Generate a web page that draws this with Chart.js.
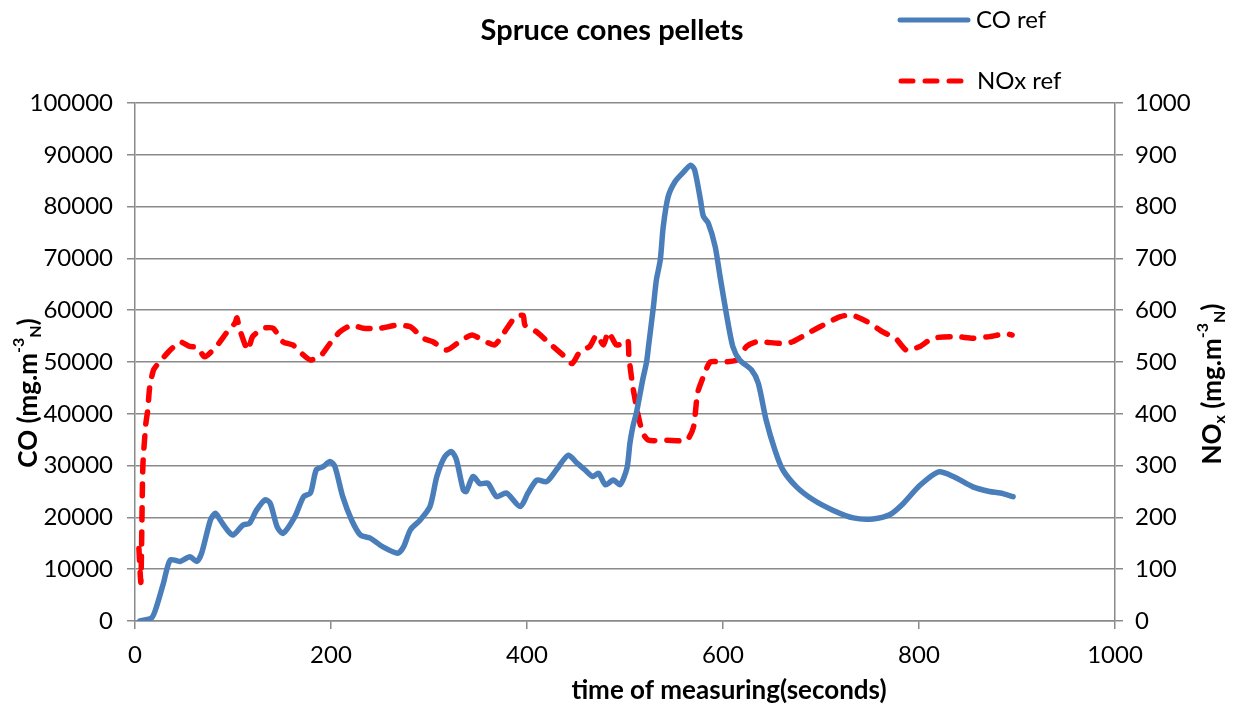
<!DOCTYPE html>
<html lang="en">
<head>
  <meta charset="UTF-8">
  <title>Spruce cones pellets</title>
  <script src="https://cdn.jsdelivr.net/npm/chart.js@4.4.0/dist/chart.umd.min.js"></script>
  <style>
    html, body { margin: 0; padding: 0; background: #fff; }
    #wrap { width: 1238px; height: 708px; }
  </style>
</head>
<body>
<div id="wrap"><canvas id="co-nox-chart" width="1238" height="708"></canvas></div>

<script>
  // time (s) and CO (mg/m3N)
  var coTime = [5, 17, 22, 29, 36, 46, 56, 63, 68, 77, 82, 87, 94, 100, 110, 117, 124, 133, 138, 145,
    151, 163, 172, 179, 185, 192, 199, 204, 212, 221, 230, 240, 253, 268, 274, 281, 291, 301, 308, 316,
    323, 328, 335, 338, 345, 352, 360, 369, 379, 393, 401, 410, 420, 430, 442, 451, 459, 467, 473, 480,
    488, 495, 502, 505, 508, 512, 518, 522, 524, 529, 532, 536, 539, 544, 551, 559, 567, 571, 577, 580,
    585, 592, 597, 604, 610, 617, 629, 636, 644, 653, 661, 675, 692, 712, 733, 753, 770, 784, 801, 820,
    835, 855, 872, 883, 896];
  var coValues = [0, 600, 2800, 7300, 11800, 11500, 12400, 11500, 13100, 19500, 20800, 19500, 17600, 16600, 18500, 18900, 21400, 23400, 22700, 18200,
    16900, 20100, 24000, 24700, 29200, 29800, 30800, 29800, 24000, 19500, 16600, 16000, 14300, 13100, 14300, 17600, 19500, 22100, 27900, 31700,
    32700, 31100, 25300, 25000, 27900, 26500, 26600, 24000, 24700, 22100, 24700, 27200, 26900, 29200, 32000, 30500, 29200, 27900, 28500, 26300,
    27200, 26300, 29500, 34300, 37500, 40500, 46500, 50000, 53000, 60700, 65800, 69700, 76100, 81900, 84800, 86500, 88000, 87100, 81300, 78100,
    76800, 72300, 66500, 58700, 53000, 50400, 48500, 45900, 38800, 33000, 29200, 25900, 23400, 21400, 19900, 19700, 20500, 22700, 26200, 28800,
    27900, 25900, 25000, 24700, 24000];

  // time (s) and NOx (mg/m3N)
  var noxTime = [4, 6, 8, 11, 13, 15, 19, 25, 36, 46, 56, 64, 71, 83, 94, 102, 104, 107, 115, 120,
    131, 141, 151, 161, 168, 179, 190, 199, 209, 221, 233, 250, 267, 281, 294, 304, 318, 333, 344, 355,
    367, 376, 388, 396, 398, 410, 423, 437, 446, 454, 464, 471, 478, 483, 491, 498, 503, 504, 508, 513,
    518, 524, 543, 563, 570, 574, 580, 587, 600, 614, 624, 634, 658, 671, 689, 706, 719, 731, 747, 763,
    776, 787, 801, 814, 838, 855, 872, 889, 895];
  var noxValues = [140, 75, 298, 380, 407, 452, 485, 500, 523, 539, 530, 528, 510, 530, 558, 575, 585, 562, 523, 549,
    565, 565, 539, 533, 520, 504, 513, 536, 558, 571, 565, 565, 571, 568, 546, 539, 523, 542, 552, 542,
    533, 555, 587, 590, 571, 558, 536, 513, 497, 520, 530, 552, 533, 558, 533, 536, 542, 510, 452, 401,
    363, 349, 349, 349, 375, 440, 472, 500, 500, 504, 530, 539, 536, 539, 558, 575, 587, 591, 578, 558,
    546, 523, 530, 546, 549, 546, 549, 555, 552];

  var xTicks = [0, 200, 400, 600, 800, 1000];

  var chartTitle = 'Spruce cones pellets';
  var xTitle = 'time of measuring(seconds)';
  var seriesNames = ['CO ref', 'NOx ref'];

  var coColor = '#4a7ebb';
  var noxColor = '#ff0000';
  var gridColor = '#8a8a8a';
  var fontName = 'Lato, "Open Sans", sans-serif';

  function toPoints(xs, ys) {
    return xs.map(function (x, i) { return { x: x, y: ys[i] }; });
  }

  function plain(v) { return String(v); }

  // draw a run of text pieces (with super/subscripts) centred on cx, cy
  function drawRich(ctx, parts, cx, cy, rotate) {
    ctx.save();
    ctx.translate(cx, cy);
    if (rotate) ctx.rotate(-Math.PI / 2);
    var total = 0;
    parts.forEach(function (p) { ctx.font = p.font; total += ctx.measureText(p.text).width; });
    var x = -total / 2;
    ctx.textBaseline = 'middle';
    ctx.textAlign = 'left';
    ctx.fillStyle = '#000';
    parts.forEach(function (p) {
      ctx.font = p.font;
      ctx.fillText(p.text, x, p.dy || 0);
      x += ctx.measureText(p.text).width;
    });
    ctx.restore();
  }

  var decorations = {
    id: 'decorations',
    afterDraw: function (chart) {
      var ctx = chart.ctx;
      var big = 'bold 26px ' + fontName;
      var small = 'bold 16px ' + fontName;

      // title
      ctx.save();
      ctx.font = 'bold 29px ' + fontName;
      ctx.fillStyle = '#000';
      ctx.textAlign = 'center';
      ctx.textBaseline = 'middle';
      ctx.fillText(chartTitle, 612, 31);

      // x axis title
      ctx.font = big;
      ctx.fillText(xTitle, 729, 691);
      ctx.restore();

      // y axis titles
      drawRich(ctx, [
        { text: 'CO (mg.m', font: big },
        { text: '-3', font: small, dy: -10 },
        { text: 'N', font: small, dy: 7 },
        { text: ')', font: big }
      ], 29, 393, true);
      drawRich(ctx, [
        { text: 'NO', font: big },
        { text: 'x', font: small, dy: 7 },
        { text: ' (mg.m', font: big },
        { text: '-3', font: small, dy: -10 },
        { text: 'N', font: small, dy: 7 },
        { text: ')', font: big }
      ], 1213, 384, true);

      // legend
      ctx.save();
      ctx.lineWidth = 5;
      ctx.lineCap = 'round';
      ctx.strokeStyle = coColor;
      ctx.beginPath();
      ctx.moveTo(900, 20);
      ctx.lineTo(968, 20);
      ctx.stroke();
      ctx.strokeStyle = noxColor;
      ctx.setLineDash([12, 12]);
      ctx.beginPath();
      ctx.moveTo(901, 81);
      ctx.lineTo(961, 81);
      ctx.stroke();
      ctx.setLineDash([]);
      ctx.font = '24px ' + fontName;
      ctx.fillStyle = '#000';
      ctx.textBaseline = 'middle';
      ctx.fillText(seriesNames[0], 976, 20);
      ctx.fillText(seriesNames[1], 977, 81);
      ctx.restore();
    }
  };

  var tickFont = { family: fontName, size: 24 };

  var ctx = document.getElementById('co-nox-chart').getContext('2d');
  var myChart = new Chart(ctx, {
    type: 'line',
    data: {
      datasets: [{
        label: seriesNames[0],
        data: toPoints(coTime, coValues),
        yAxisID: 'y',
        borderColor: coColor,
        borderWidth: 5.5,
        pointRadius: 0,
        tension: 0.25,
        borderCapStyle: 'round',
        borderJoinStyle: 'round'
      }, {
        label: seriesNames[1],
        data: toPoints(noxTime, noxValues),
        yAxisID: 'y2',
        borderColor: noxColor,
        borderWidth: 5.5,
        borderDash: [12, 12],
        borderCapStyle: 'round',
        borderJoinStyle: 'round',
        pointRadius: 0,
        tension: 0.2
      }]
    },
    options: {
      responsive: false,
      animation: false,
      layout: { padding: { top: 103, left: 0, right: 0, bottom: 0 } },
      plugins: {
        legend: { display: false },
        title: { display: false },
        tooltip: { enabled: false }
      },
      scales: {
        x: {
          type: 'linear',
          min: 0,
          max: 1000,
          afterFit: function (s) { s.height = 87; },
          afterBuildTicks: function (s) { s.ticks = xTicks.map(function (v) { return { value: v }; }); },
          grid: { drawOnChartArea: false, drawTicks: true, tickLength: 8, color: gridColor, lineWidth: 1.5 },
          border: { display: true, color: gridColor, width: 1.5 },
          ticks: { color: '#000', font: tickFont, padding: 12, maxRotation: 0, callback: plain }
        },
        y: {
          position: 'left',
          min: 0,
          max: 100000,
          afterFit: function (s) { s.width = 135; },
          ticks: { stepSize: 10000, color: '#000', font: tickFont, padding: 14, callback: plain },
          grid: { color: gridColor, lineWidth: 1.5, tickLength: 8 },
          border: { display: true, color: gridColor, width: 1.5 }
        },
        y2: {
          position: 'right',
          min: 0,
          max: 1000,
          afterFit: function (s) { s.width = 123; },
          ticks: { stepSize: 100, color: '#000', font: tickFont, padding: 12, callback: plain },
          grid: { drawOnChartArea: false, color: gridColor, lineWidth: 1.5, tickLength: 8 },
          border: { display: true, color: gridColor, width: 1.5 }
        }
      }
    },
    plugins: [decorations]
  });
</script>

</body>
</html>
